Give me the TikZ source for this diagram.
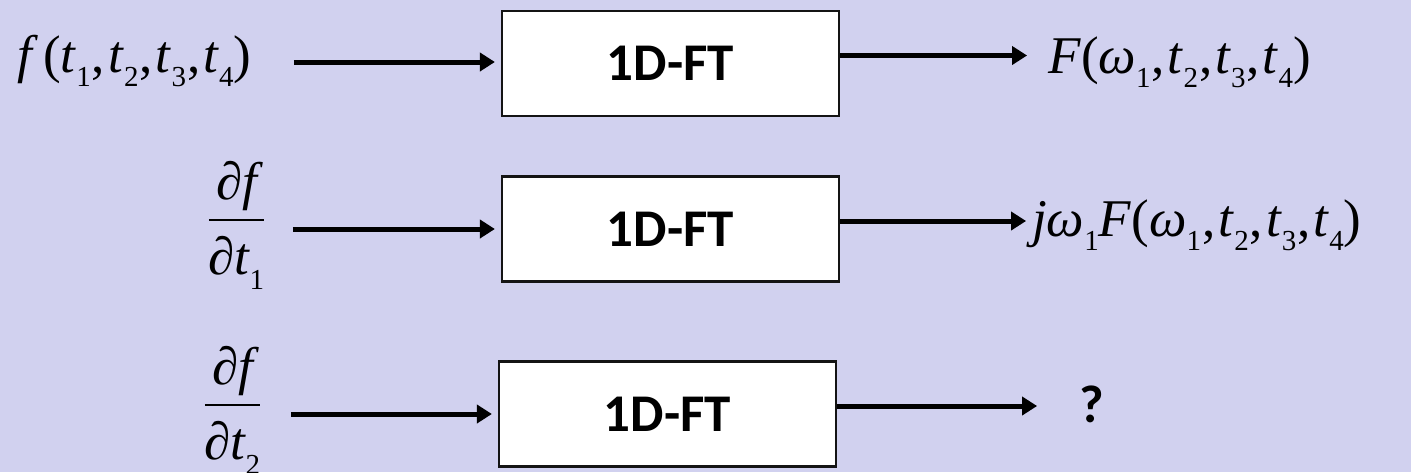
\RequirePackage{fix-cm}
\documentclass[tikz,border=0pt]{standalone}
\usepackage{fontspec}
\setmainfont{Liberation Serif}
\newfontfamily\calib{Carlito}
\usetikzlibrary{arrows.meta}
\definecolor{bgcol}{RGB}{209,209,239}
\newcommand\sbs[1]{\raisebox{-0.28em}{\fontsize{29}{30}\selectfont\upshape #1}}
\newcommand\vi[1]{\textit{#1}}
\newcommand\cm{\kern1pt,\kern3pt}
\newcommand\pdfrac[2]{$\displaystyle{\raisebox{-2.5pt}{\itshape #1}\above 2.2pt\raisebox{-5pt}{\itshape #2}}$}
\begin{document}
\begin{tikzpicture}[x=1pt,y=-1pt,
  ftbox/.style={draw=black!92, line width=2.2pt, fill=white, minimum width=337pt,
    minimum height=105pt, inner sep=0pt, font=\calib\bfseries\fontsize{53}{60}\selectfont},
  conn/.style={line width=5pt, -{Triangle[length=15pt,width=18pt]}},
  mth/.style={inner sep=0pt, anchor=base west, font=\fontsize{53}{60}\selectfont},
  frc/.style={inner sep=0pt, anchor=base, font=\fontsize{53}{60}\selectfont},
  qm/.style={inner sep=0pt, anchor=base west, font=\calib\bfseries\fontsize{53}{60}\selectfont}]
\fill[bgcol] (0,0) rectangle (1411,472);
\useasboundingbox (0,0) rectangle (1411,472);

% boxes
\node[ftbox] (box1) at (670.5,63.5) {1D-FT};
\node[ftbox] (box2) at (670.5,229) {1D-FT};
\node[ftbox] (box3) at (667.5,414) {1D-FT};

% inputs
\node[mth] (in1) at (17,72) {\vi{f}\kern5pt(\vi{t}\sbs{1}\cm\vi{t}\sbs{2}\cm\vi{t}\sbs{3}\cm\vi{t}\sbs{4})};
\node[frc] (in2) at (236.5,233.25) {\pdfrac{∂f}{∂t\sbs{1}}};
\node[frc] (in3) at (232.5,418.25) {\pdfrac{∂f}{∂t\sbs{2}}};

% outputs
\node[mth] (out1) at (1048,73) {\vi{F}(\vi{ω}\sbs{1}\cm\vi{t}\sbs{2}\cm\vi{t}\sbs{3}\cm\vi{t}\sbs{4})};
\node[mth] (out2) at (1032,236) {\vi{jω}\sbs{1}\vi{F}(\vi{ω}\sbs{1}\cm\vi{t}\sbs{2}\cm\vi{t}\sbs{3}\cm\vi{t}\sbs{4})};
\node[qm] (out3) at (1079,422) {?};

% connectors
\draw[conn] ([xshift=-207pt,yshift=1.5pt]box1.west) -- ([xshift=-6pt,yshift=1.5pt]box1.west);
\draw[conn] ([xshift=-208pt]box2.west) -- ([xshift=-6pt]box2.west);
\draw[conn] ([xshift=-207pt]box3.west) -- ([xshift=-6pt]box3.west);

\draw[conn] ([yshift=8pt]box1.east) -- ([yshift=8pt,xshift=187pt]box1.east);
\draw[conn] ([yshift=8pt]box2.east) -- ([yshift=8pt,xshift=186pt]box2.east);
\draw[conn] ([yshift=8pt]box3.east) -- ([yshift=8pt,xshift=200pt]box3.east);
\end{tikzpicture}
\end{document}
